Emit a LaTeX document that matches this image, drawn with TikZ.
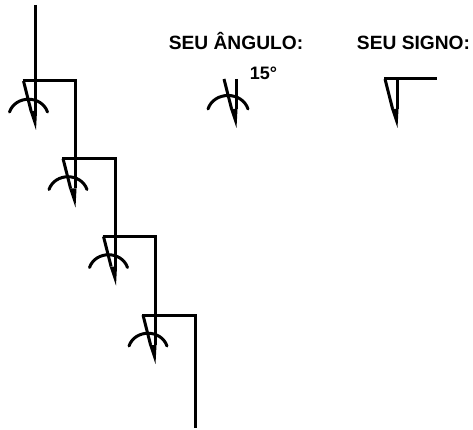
\documentclass[tikz,border=0pt]{standalone}
\usepackage{fontspec}
\setmainfont{Liberation Sans}
\tikzset{
	pen/.style={line width=3pt},
	arcpen/.style={line width=3pt,line cap=round},
	caption/.style={font=\fontsize{19.2}{19}\selectfont\bfseries,inner sep=0pt,anchor=base},
	wedge/.pic={
		\draw[pen] (-12,0) -- (-4.4,30);
		\draw[pen] (0,0) -- (0,30);
		\fill (-5.9,30) -- (1.5,30) -- (.5,49) -- cycle;
	},
}
\begin{document}
\begin{tikzpicture}[x=1pt,y=-1pt]
	\useasboundingbox (0,0) rectangle (473,430);
	\coordinate (start) at (35.5,5);
	\coordinate (end) at (195,428);
	\foreach \n/\x/\y/\r/\b in {1/35.5/81/75/158.5,2/75/158.5/115.5/236.5,3/115.5/236.5/155/315,4/155/315/195/428} {
		\coordinate (top\n) at (\x,\y);
		\coordinate (left\n) at ({\x-13},\y);
		\coordinate (corner\n) at (\r,\y);
		\coordinate (next\n) at (\r,\b);
		\draw[pen,line join=miter] (left\n) -- (corner\n) -- (next\n);
		\pic at (top\n) {wedge};
		\draw[arcpen] ({\x-26},{\y+31}) .. controls ({\x-20},{\y+14}) and ({\x+6},{\y+14}) .. ({\x+12},{\y+31});
	}
	\draw[pen] (start) -- (top1);
	\node[caption] (angle) at (236,50) {SEU ÂNGULO:};
	\node[caption] (sign) at (413.5,50) {SEU SIGNO:};
	\node[caption,font=\fontsize{18}{18}\selectfont\bfseries] (value) at (263.5,79.5) {15°};
	% angle symbol
	\pic at (236,79) {wedge};
	\draw[arcpen] (208,109) .. controls (214,91) and (242,91) .. (248,109);
	% sign symbol
	\pic at (397,79) {wedge};
	\draw[pen] (384,79) -- (437,79);
\end{tikzpicture}
\end{document}
